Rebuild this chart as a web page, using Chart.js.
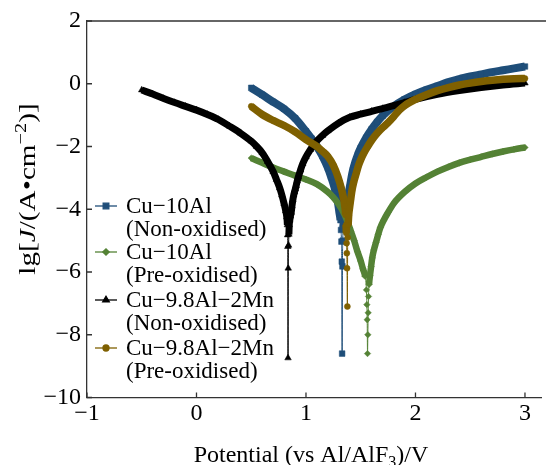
<!DOCTYPE html>
<html><head><meta charset="utf-8">
<script src="https://cdn.jsdelivr.net/npm/chart.js@4"></script>
<style>html,body{margin:0;padding:0;background:#fff;overflow:hidden}</style>
</head><body><canvas id="c" width="546" height="465"></canvas>
<script>
// ---- data ----
const xTicks = [-1, 0, 1, 2, 3];
const yTicks = [-10, -8, -6, -4, -2, 0, 2];
const seriesNames = [
  ["Cu\u221210Al", "(Non-oxidised)"],
  ["Cu\u221210Al", "(Pre-oxidised)"],
  ["Cu\u22129.8Al\u22122Mn", "(Non-oxidised)"],
  ["Cu\u22129.8Al\u22122Mn", "(Pre-oxidised)"]
];
const xTitle = ["Potential (vs Al/AlF", "3", ")/V"];
const yTitle = ["lg[", "J", "/(A\u2022cm", "\u22122", ")]"];

const cu10NonE  = [0.5,0.6,0.7,0.8,0.9,1.0,1.05,1.1,1.15,1.2,1.23,1.26,1.28,1.295,1.305,1.315,1.32,1.324,1.327,1.33,1.333,1.336,1.34,1.348,1.36,1.37,1.385,1.4,1.415,1.43,1.45,1.475,1.5,1.55,1.6,1.65,1.7,1.8,1.9,2.0,2.1,2.2,2.3,2.4,2.5,2.6,2.7,2.8,2.9,3.0];
const cu10NonLg = [-0.13,-0.35,-0.58,-0.8,-1.1,-1.52,-1.75,-2.0,-2.3,-2.68,-2.97,-3.3,-3.6,-3.85,-4.1,-4.35,-4.66,-5.03,-5.67,-8.6,-5.82,-5.0,-4.6,-4.3,-4.05,-3.8,-3.55,-3.3,-3.0,-2.75,-2.5,-2.25,-2.05,-1.72,-1.45,-1.22,-1.02,-0.72,-0.5,-0.33,-0.19,-0.07,0.05,0.15,0.23,0.3,0.37,0.43,0.49,0.55];

const cu10PreE  = [0.5,0.6,0.7,0.8,0.9,1.0,1.1,1.2,1.25,1.3,1.35,1.38,1.41,1.44,1.47,1.5,1.52,1.54,1.552,1.556,1.559,1.562,1.565,1.568,1.571,1.576,1.585,1.595,1.605,1.62,1.64,1.66,1.68,1.71,1.75,1.8,1.85,1.9,2.0,2.1,2.2,2.3,2.4,2.5,2.6,2.7,2.8,2.9,3.0];
const cu10PreLg = [-2.37,-2.52,-2.67,-2.8,-2.93,-3.05,-3.2,-3.45,-3.62,-3.85,-4.15,-4.4,-4.7,-5.0,-5.35,-5.65,-5.9,-6.14,-6.57,-7.04,-7.52,-8.6,-8.0,-7.3,-6.78,-6.4,-6.1,-5.82,-5.55,-5.3,-5.05,-4.8,-4.58,-4.35,-4.1,-3.82,-3.62,-3.45,-3.18,-2.98,-2.8,-2.65,-2.52,-2.42,-2.33,-2.24,-2.16,-2.09,-2.03];

const cuMnNonE  = [-0.5,-0.4,-0.3,-0.2,-0.1,0.0,0.1,0.2,0.3,0.4,0.5,0.55,0.6,0.65,0.7,0.73,0.76,0.78,0.8,0.815,0.825,0.83,0.832,0.834,0.836,0.838,0.841,0.844,0.847,0.852,0.858,0.865,0.872,0.88,0.888,0.895,0.903,0.91,0.92,0.93,0.95,0.97,1.0,1.04,1.08,1.15,1.2,1.3,1.4,1.5,1.6,1.7,1.8,1.9,2.0,2.2,2.4,2.6,2.8,3.0];
const cuMnNonLg = [-0.2,-0.33,-0.47,-0.6,-0.72,-0.84,-0.98,-1.14,-1.35,-1.57,-1.83,-2.0,-2.2,-2.48,-2.8,-3.05,-3.32,-3.55,-3.82,-4.05,-4.25,-4.5,-4.82,-5.19,-8.74,-5.88,-5.15,-4.8,-4.5,-4.35,-4.22,-4.1,-3.9,-3.7,-3.55,-3.45,-3.35,-3.25,-3.1,-2.97,-2.75,-2.55,-2.33,-2.1,-1.9,-1.65,-1.5,-1.25,-1.07,-0.97,-0.88,-0.79,-0.7,-0.6,-0.5,-0.34,-0.22,-0.12,-0.04,0.02];

const cuMnPreE  = [0.5,0.6,0.7,0.8,0.9,1.0,1.1,1.15,1.2,1.25,1.29,1.32,1.34,1.355,1.362,1.366,1.369,1.371,1.373,1.375,1.378,1.381,1.385,1.39,1.398,1.408,1.42,1.435,1.455,1.48,1.5,1.53,1.56,1.6,1.65,1.7,1.75,1.8,1.85,1.9,2.0,2.1,2.2,2.3,2.4,2.5,2.6,2.7,2.8,2.9,3.0];
const cuMnPreLg = [-0.72,-0.98,-1.17,-1.33,-1.53,-1.78,-2.0,-2.15,-2.32,-2.6,-2.95,-3.3,-3.6,-3.9,-4.18,-4.5,-4.76,-5.08,-5.4,-5.88,-7.1,-4.9,-4.5,-4.2,-3.95,-3.7,-3.4,-3.15,-2.9,-2.6,-2.42,-2.2,-2.02,-1.8,-1.58,-1.4,-1.24,-1.05,-0.85,-0.7,-0.5,-0.35,-0.22,-0.12,-0.04,0.02,0.07,0.11,0.14,0.16,0.17];

// ---- build ----
const FONT = "'Liberation Serif', 'Times New Roman', serif";
const zip = (xs, ys) => xs.map((x, i) => ({x: x, y: ys[i]}));
const styles = [
  {color: '#1F4E79', point: 'rect',     r: 4.0, band: 8,   order: 3},
  {color: '#548235', point: 'rectRot',  r: 3.2, band: 6.5, order: 2},
  {color: '#000000', point: 'triangle', r: 3.8, band: 7,   order: 1},
  {color: '#7F6000', point: 'circle',   r: 3.0, band: 7.5, order: 0}
];
const seriesData = [zip(cu10NonE, cu10NonLg), zip(cu10PreE, cu10PreLg), zip(cuMnNonE, cuMnNonLg), zip(cuMnPreE, cuMnPreLg)];

const datasets = seriesData.map((d, i) => {
  const s = styles[i];
  return {
    label: seriesNames[i].join(' '),
    data: d,
    showLine: true,
    borderColor: s.color,
    backgroundColor: s.color,
    pointBackgroundColor: s.color,
    pointBorderColor: s.color,
    pointBorderWidth: 0.5,
    pointStyle: s.point,
    pointRadius: s.r,
    pointHoverRadius: s.r,
    borderWidth: s.band,
    borderJoinStyle: 'round',
    borderCapStyle: 'butt',
    cubicInterpolationMode: 'monotone',
    order: s.order,
    segment: {
      // near-vertical jumps between sparse points near the corrosion potential are drawn thin
      borderWidth: ctx => (Math.abs(ctx.p1.y - ctx.p0.y) > 9.5 && Math.abs(ctx.p1.x - ctx.p0.x) < 1.5) ? 1 : s.band
    }
  };
});

const minus = v => String(v).replace('-', '\u2212');

function drawPieces(ctx, pieces, cx, cy, size) {
  const fontFor = k => (k === 'i' ? 'italic ' : '') + ((k === 'sup' || k === 'sub') ? Math.round(size * 0.68) : size) + 'px ' + FONT;
  let total = 0;
  const widths = pieces.map(p => { ctx.font = fontFor(p[1]); const w = ctx.measureText(p[0]).width; total += w; return w; });
  let x = cx - total / 2;
  ctx.textAlign = 'left';
  ctx.textBaseline = 'alphabetic';
  pieces.forEach((p, i) => {
    ctx.font = fontFor(p[1]);
    let dy = 0;
    if (p[1] === 'sup') dy = -size * 0.38;
    if (p[1] === 'sub') dy = size * 0.2;
    ctx.fillText(p[0], x, cy + dy);
    x += widths[i];
  });
}

const decor = {
  id: 'decor',
  afterDraw(chart) {
    const ctx = chart.ctx, a = chart.chartArea;
    const xs = chart.scales.x, ys = chart.scales.y;
    ctx.save();
    ctx.strokeStyle = '#333';
    ctx.lineWidth = 1.3;
    ctx.beginPath(); ctx.moveTo(a.left, a.top); ctx.lineTo(chart.width, a.top); ctx.stroke();
    ctx.beginPath();
    yTicks.forEach(v => { const y = ys.getPixelForValue(v); ctx.moveTo(a.left, y); ctx.lineTo(a.left + 5, y); });
    xTicks.forEach(v => { const x = xs.getPixelForValue(v); ctx.moveTo(x, a.bottom); ctx.lineTo(x, a.bottom - 5); });
    ctx.stroke();
    ctx.fillStyle = '#000';
    drawPieces(ctx, [[xTitle[0], 'n'], [xTitle[1], 'sub'], [xTitle[2], 'n']], 311, 462, 24);
    ctx.save();
    ctx.translate(35, 189);
    ctx.rotate(-Math.PI / 2);
    ctx.scale(1.27, 1);
    drawPieces(ctx, [[yTitle[0], 'n'], [yTitle[1], 'i'], [yTitle[2], 'n'], [yTitle[3], 'sup'], [yTitle[4], 'n']], 0, 0, 23);
    ctx.restore();
    const ly = [206, 252, 300, 348];
    styles.forEach((s, i) => {
      const y = ly[i];
      ctx.strokeStyle = s.color; ctx.fillStyle = s.color; ctx.lineWidth = 1.3;
      ctx.beginPath(); ctx.moveTo(95, y); ctx.lineTo(117, y); ctx.stroke();
      Chart.helpers.drawPoint(ctx, {pointStyle: s.point, radius: s.r, rotation: 0, borderWidth: 0.5}, 106, y);
      ctx.fillStyle = '#000';
      ctx.font = '23px ' + FONT;
      ctx.textAlign = 'left'; ctx.textBaseline = 'middle';
      ctx.fillText(seriesNames[i][0], 126, y + 1);
      ctx.fillText(seriesNames[i][1], 126, y + 24);
    });
    ctx.restore();
  }
};

new Chart(document.getElementById('c'), {
  type: 'line',
  data: {datasets: datasets},
  plugins: [decor],
  options: {
    responsive: false,
    devicePixelRatio: 1,
    animation: false,
    events: [],
    layout: {padding: {top: 21, right: 0, left: 0, bottom: 0}},
    plugins: {legend: {display: false}, tooltip: {enabled: false}},
    scales: {
      x: {
        type: 'linear', min: -1, max: 3.151,
        afterFit: s => { s.height = 67.5; },
        ticks: {stepSize: 1, includeBounds: false, padding: 2, color: '#000', font: {family: FONT, size: 24}, callback: v => minus(v), maxRotation: 0},
        grid: {drawOnChartArea: false, drawTicks: false},
        border: {display: true, color: '#333', width: 1.3}
      },
      y: {
        type: 'linear', min: -10, max: 2,
        afterFit: s => { s.width = 87; },
        ticks: {stepSize: 2, padding: 6, color: '#000', font: {family: FONT, size: 24}, callback: v => minus(v)},
        grid: {drawOnChartArea: false, drawTicks: false},
        border: {display: true, color: '#333', width: 1.3}
      }
    }
  }
});
</script>
</body></html>
